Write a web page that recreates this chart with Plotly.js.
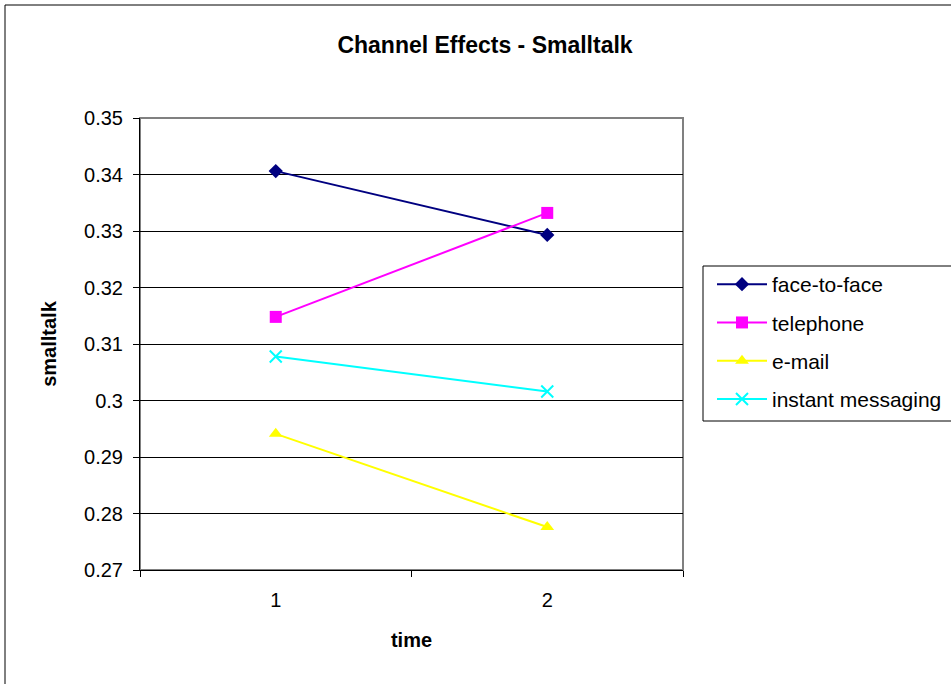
<!DOCTYPE html>
<html>
<head>
<meta charset="utf-8">
<script src="https://cdn.plot.ly/plotly-3.0.1.min.js"></script>
<style>html,body{margin:0;padding:0;background:#fff;}</style>
</head>
<body>
<div id="chart" style="width:951px;height:684px;"></div>
<script>
const timeCategories = ['1', '2'];
const seriesNames = ['face-to-face', 'telephone', 'e-mail', 'instant messaging'];
const faceToFace = [0.3406, 0.3293];
const telephone = [0.3148, 0.3332];
const email = [0.2941, 0.2776];
const instantMessaging = [0.3078, 0.3016];
const yTickValues = [0.27, 0.28, 0.29, 0.3, 0.31, 0.32, 0.33, 0.34, 0.35];
const yTickLabels = ['0.27', '0.28', '0.29', '0.3', '0.31', '0.32', '0.33', '0.34', '0.35'];

const FONT = 'Liberation Sans, Arial, sans-serif';
const styles = [
  {color: '#000080', symbol: 'diamond', size: 11},
  {color: '#FF00FF', symbol: 'square', size: 12},
  {color: '#FFFF00', symbol: 'triangle-up', size: 12},
  {color: '#00FFFF', symbol: 'x-thin', size: 12}
];
const values = [faceToFace, telephone, email, instantMessaging];

const traces = values.map((v, i) => ({
  type: 'scatter',
  mode: 'lines+markers',
  x: timeCategories,
  y: v,
  name: seriesNames[i],
  legendgroup: 'g' + i,
  line: {color: styles[i].color, width: 2},
  marker: {
    color: styles[i].color,
    symbol: styles[i].symbol,
    size: styles[i].size,
    line: {color: styles[i].color, width: styles[i].symbol === 'x-thin' ? 2 : 0}
  },
  cliponaxis: false
}));

const W = 951, H = 684, L = 140, R = 683, T = 118, B = 570;
const px = x => (x - L) / (R - L);
const py = y => (B - y) / (B - T);

const layout = {
  width: W, height: H, autosize: false,
  margin: {l: L, r: W - R, t: T, b: H - B, pad: 0},
  paper_bgcolor: '#fff',
  plot_bgcolor: '#fff',
  font: {family: FONT, size: 20, color: '#000'},
  title: {
    text: '<b>Channel Effects - Smalltalk</b>',
    font: {family: FONT, size: 23, color: '#000'},
    x: 485 / W, xref: 'container', xanchor: 'center',
    y: 1 - 45 / H, yref: 'container', yanchor: 'middle'
  },
  xaxis: {
    type: 'category',
    categoryorder: 'array',
    categoryarray: timeCategories,
    range: [-0.5, 1.5],
    tickson: 'boundaries',
    ticks: 'outside', ticklen: 6, tickcolor: '#000', tickwidth: 1,
    showgrid: false, zeroline: false,
    showline: true, linecolor: '#000', linewidth: 1,
    tickfont: {family: FONT, size: 20, color: '#000'},
    ticklabelstandoff: 12,
    title: {text: '<b>time</b>', font: {family: FONT, size: 20, color: '#000'}, standoff: 22},
    automargin: false,
    fixedrange: true
  },
  yaxis: {
    range: [0.27, 0.35],
    tickvals: yTickValues,
    ticktext: yTickLabels,
    ticks: 'outside', ticklen: 6, tickcolor: '#000', tickwidth: 1,
    showgrid: true, gridcolor: '#000', gridwidth: 1,
    zeroline: false,
    showline: true, linecolor: '#000', linewidth: 1,
    tickfont: {family: FONT, size: 20, color: '#000'},
    ticklabelstandoff: 6,
    title: {text: '<b>smalltalk</b>', font: {family: FONT, size: 20, color: '#000'}, standoff: 22},
    automargin: false,
    fixedrange: true
  },
  showlegend: true,
  legend: {
    xref: 'container', yref: 'container',
    x: 712 / W, xanchor: 'left',
    y: 1 - 264 / H, yanchor: 'top',
    bgcolor: 'rgba(0,0,0,0)',
    borderwidth: 0,
    font: {family: FONT, size: 21, color: '#000'},
    traceorder: 'grouped',
    tracegroupgap: 8,
    itemwidth: 50
  },
  shapes: [
    {type: 'rect', xref: 'paper', yref: 'paper', x0: 0, x1: 1, y0: 0, y1: 1,
     line: {color: '#808080', width: 2}, layer: 'below'},
    {type: 'line', xref: 'paper', yref: 'paper', x0: px(5), x1: px(5), y0: py(5), y1: py(700),
     line: {color: '#000', width: 1}},
    {type: 'line', xref: 'paper', yref: 'paper', x0: px(5), x1: px(960), y0: py(5), y1: py(5),
     line: {color: '#000', width: 1}},
    {type: 'rect', xref: 'paper', yref: 'paper', x0: px(703), x1: px(970), y0: py(421), y1: py(266),
     line: {color: '#000', width: 1}}
  ]
};

Plotly.newPlot('chart', traces, layout, {staticPlot: true, displayModeBar: false});
</script>
</body>
</html>
